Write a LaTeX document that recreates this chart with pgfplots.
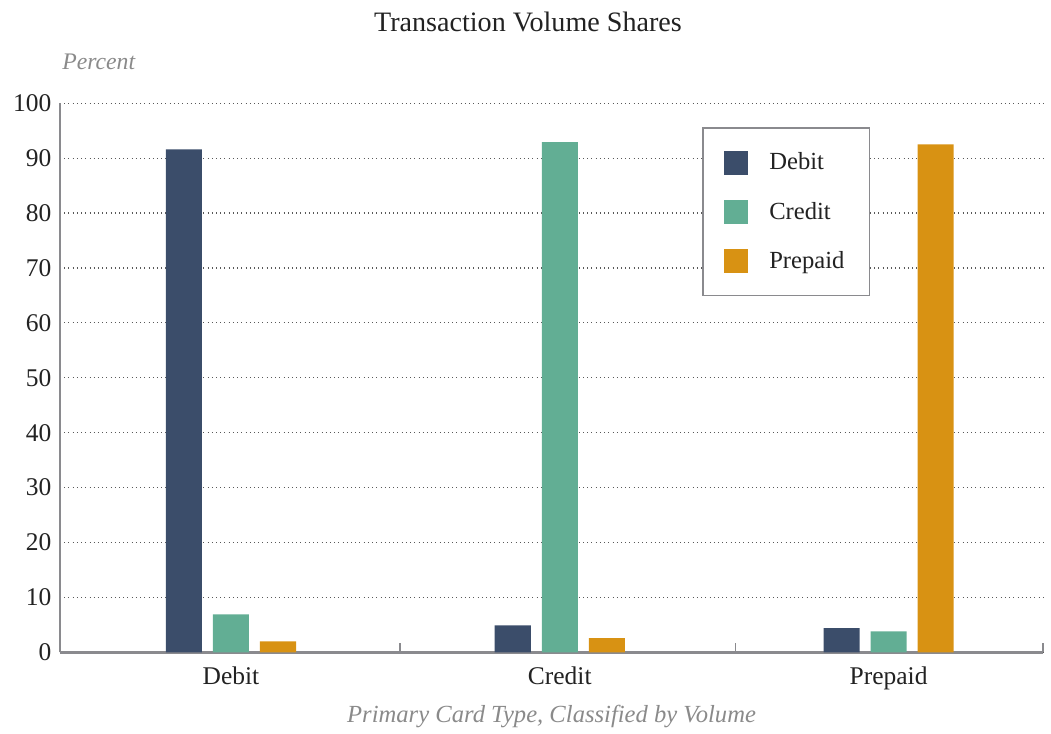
\documentclass[border=0pt]{standalone}
\usepackage{fontspec}
\setmainfont{Liberation Serif}
\usepackage{pgfplots}
\pgfplotsset{compat=1.18}

\definecolor{cdebit}{HTML}{3B4D6A}
\definecolor{ccredit}{HTML}{62AE94}
\definecolor{cprepaid}{HTML}{D89213}
\definecolor{axisgray}{HTML}{8A8A8E}
\definecolor{labelgray}{HTML}{8A8A8A}
\definecolor{txt}{HTML}{222222}

% shares in percent, columns = series, rows = card type groups
\pgfplotstableread{
x debit credit prepaid
0 91.6 6.9 2.0
1 4.9 92.9 2.6
2 4.4 3.8 92.5
}\shares

\begin{document}
\begin{tikzpicture}
\begin{axis}[
    scale only axis,
    width=19.66cm, height=10.98cm,
    clip=false,
    ybar,
    bar width=0.1096,
    xmin=-0.52, xmax=2.47,
    ymin=0, ymax=100,
    ytick={0,10,...,100},
    xtick={0,1,2},
    xticklabels={Debit,Credit,Prepaid},
    axis y line*=left,
    axis x line*=bottom,
    axis line style={axisgray, line width=1.6pt},
    major tick length=0pt,
    ymajorgrids=true,
    grid style={dotted, black!65, line width=0.7pt},
    extra x ticks={0.514,1.534,2.47},
    extra x tick labels={},
    extra x tick style={major tick length=0.18cm, tick align=inside,
        major tick style={axisgray, line width=0.8pt}, xmajorgrids=false},
    tick label style={font=\fontsize{14.5}{16}\selectfont, text=txt},
    yticklabel style={xshift=-0.05cm},
    xticklabel style={yshift=-0.17cm},
    /pgf/number format/assume math mode=true,
    legend style={at={(rel axis cs:0.653,0.956)}, anchor=north west,
        draw=axisgray, line width=0.9pt, inner xsep=0.43cm, inner ysep=0.42cm,
        row sep=0.45cm, font=\fontsize{14}{16}\selectfont, text=txt},
    legend cell align=left,
    legend image code/.code={\fill[#1] (0cm,-0.24cm) rectangle (0.48cm,0.24cm);},
]
\addplot[fill=cdebit, draw=none, bar shift=-0.143] table[x=x, y=debit] {\shares};
\addplot[fill=ccredit, draw=none, bar shift=0] table[x=x, y=credit] {\shares};
\addplot[fill=cprepaid, draw=none, bar shift=0.143] table[x=x, y=prepaid] {\shares};
\legend{\hspace{0.35cm}Debit,\hspace{0.35cm}Credit,\hspace{0.35cm}Prepaid}

\node[font=\fontsize{16}{18}\selectfont, text=txt] at (rel axis cs:0.476,1.148) {Transaction Volume Shares};
\node[anchor=west, font=\fontsize{13.5}{16}\selectfont\itshape, text=labelgray, inner sep=0pt] at (rel axis cs:0.002,1.075) {Percent};
\node[font=\fontsize{14}{16}\selectfont\itshape, text=labelgray] at (rel axis cs:0.5,-0.117) {Primary Card Type, Classified by Volume};
\coordinate (bl) at (rel axis cs:-0.061,-0.140);
\coordinate (tr) at (rel axis cs:1.008,1.188);
\end{axis}
\path (bl) rectangle (tr);
\end{tikzpicture}
\end{document}
